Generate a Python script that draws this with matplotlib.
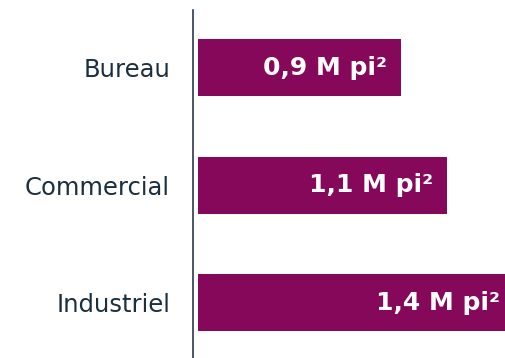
import matplotlib
matplotlib.use("Agg")
import matplotlib.pyplot as plt

categories = ["Bureau", "Commercial", "Industriel"]
values = [0.9, 1.1, 1.4]
value_labels = ["0,9 M pi²", "1,1 M pi²", "1,4 M pi²"]

BAR_COLOR = "#85085A"
TEXT_COLOR = "#1B2F40"

plt.rcParams["font.family"] = ["DejaVu Sans"]

fig = plt.figure(figsize=(5.05, 3.58), dpi=100)
ax = fig.add_axes([193 / 505, 0.0, 312 / 505, 348 / 358])

y = list(range(len(categories)))
ax.barh(y, values, height=0.485, color=BAR_COLOR, left=0)

for yi, v, lab in zip(y, values, value_labels):
    ax.text(v - 0.062, yi, lab, ha="right", va="center", color="white",
            fontsize=18, fontweight="bold")

ax.set_xlim(-0.022, 1.358)
ax.set_ylim(2.47, -0.49)

ax.set_yticks(y)
ax.set_yticklabels(categories, fontsize=17.5, color=TEXT_COLOR)
ax.tick_params(axis="y", length=0, pad=16.5)
ax.set_xticks([])

for side in ["top", "right", "bottom"]:
    ax.spines[side].set_visible(False)
ax.spines["left"].set_color("#2B3A4A")
ax.spines["left"].set_linewidth(1.2)

fig.savefig("out.png", dpi=100)
